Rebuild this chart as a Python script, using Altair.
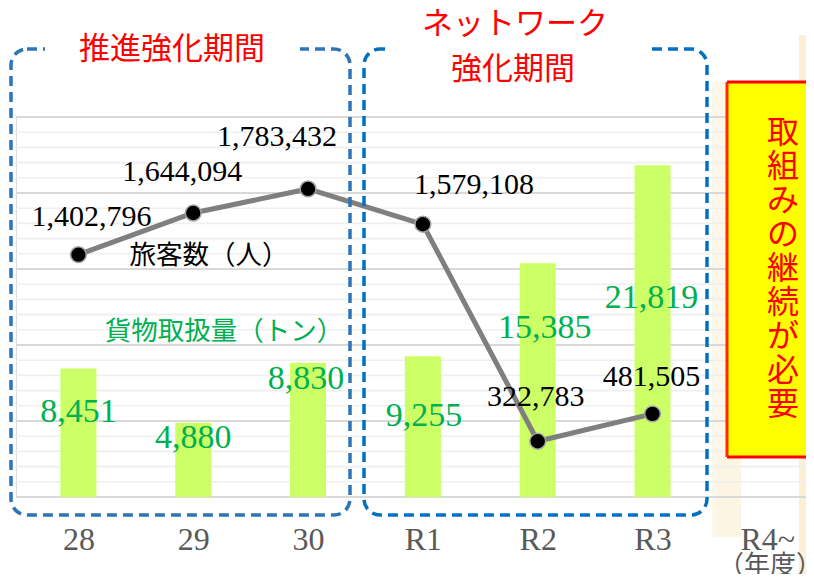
import json
import altair as alt
import pandas as pd

# ---- data ----
years = ["28", "29", "30", "R1", "R2", "R3", "R4~"]
cargo = [8451, 4880, 8830, 9255, 15385, 21819]
passengers = [1402796, 1644094, 1783432, 1579108, 322783, 481505]
grid_minor = list(range(0, 25001, 1000))
grid_major = list(range(0, 25001, 5000))

# label nudges (layout, px)
pax_dx = [13, -11, -31, 51, -2, -1]
pax_dy = [-38, -41, -52, -39, -44, -37]
cargo_dx = [0, 0, -2, 1, 7, -1]
cargo_dy = [43, 15, 16, 60, 65, 133]

df = pd.DataFrame({"idx": list(range(len(cargo))), "cargo": cargo, "pax": passengers})
one = pd.DataFrame({"a": [0]})

W, H = 790, 380
xscale = alt.Scale(domain=[-0.5, 6.293], nice=False, zero=False)
label_arr = json.dumps(years)
xaxis = alt.Axis(values=list(range(len(years))), labelExpr=f"{label_arr}[datum.value]",
                 domain=False, ticks=False, grid=False, title=None,
                 labelFont="Liberation Serif", labelFontSize=32, labelColor="#595959",
                 labelPadding=27)
X = alt.X("idx:Q", scale=xscale, axis=xaxis)
ybar = alt.Scale(domain=[0, 25000], nice=False)
yline = alt.Scale(domain=[0, 2200000], nice=False)

minor = alt.Chart(pd.DataFrame({"v": grid_minor})).mark_rule(
    color="#efefef", strokeWidth=1.6).encode(
    y=alt.Y("v:Q", scale=ybar, axis=None))
major = alt.Chart(pd.DataFrame({"v": grid_major})).mark_rule(
    color="#d9d9d9", strokeWidth=2.2).encode(
    y=alt.Y("v:Q", scale=ybar, axis=None))

bars = alt.Chart(df).mark_bar(size=36, color="#ccff66").encode(
    x=X, y=alt.Y("cargo:Q", scale=ybar, axis=None))

bar_labels = []
for i in range(len(cargo)):
    bar_labels.append(
        alt.Chart(df).transform_filter(f"datum.idx == {i}").mark_text(
            font="Liberation Serif", fontSize=34, color="#00b050", baseline="middle",
            dx=cargo_dx[i], dy=cargo_dy[i]).encode(
            x=X, y=alt.Y("cargo:Q", scale=ybar, axis=None),
            text=alt.Text("cargo:Q", format=","))
    )

line = alt.Chart(df).mark_line(color="#7f7f7f", strokeWidth=5).encode(
    x=X, y=alt.Y("pax:Q", scale=yline, axis=None))
pts = alt.Chart(df).mark_circle(size=250, fill="black", stroke="#a6a6a6", strokeWidth=1.5,
                                opacity=1).encode(
    x=X, y=alt.Y("pax:Q", scale=yline, axis=None))
pax_labels = []
for i in range(len(passengers)):
    pax_labels.append(
        alt.Chart(df).transform_filter(f"datum.idx == {i}").mark_text(
            font="Liberation Serif", fontSize=30, color="black", baseline="middle",
            dx=pax_dx[i], dy=pax_dy[i]).encode(
            x=X, y=alt.Y("pax:Q", scale=yline, axis=None),
            text=alt.Text("pax:Q", format=","))
    )

left_layer = alt.layer(minor, major, bars, *bar_labels)
right_layer = alt.layer(line, pts, *pax_labels)


def rect(x1, x2, y1, y2, **kw):
    return alt.Chart(one).mark_rect(**kw).encode(
        x=alt.value(x1), x2=alt.value(x2), y=alt.value(y1), y2=alt.value(y2))


def seg(x1, x2, y1, y2, **kw):
    return alt.Chart(one).mark_rule(**kw).encode(
        x=alt.value(x1), x2=alt.value(x2), y=alt.value(y1), y2=alt.value(y2))


def label(txt, x, y, **kw):
    return alt.Chart(one).mark_text(**kw).encode(
        x=alt.value(x), y=alt.value(y), text=alt.value(txt))


box1 = rect(-5, 334, -68, 398, filled=False, stroke="#2e75b6", strokeWidth=3.5,
            strokeDash=[10, 6], cornerRadius=16)
box2 = rect(348, 691, -68, 398, filled=False, stroke="#0070c0", strokeWidth=3.5,
            strokeDash=[10, 6], cornerRadius=16)
gap1 = rect(29, 284, -75, -60, fill="white")
gap2 = rect(369, 636, -75, -60, fill="white")

jp = "Noto Sans CJK JP"
t1 = label("推進強化期間", 156, -67, font=jp, fontSize=31, color="#ff0000", baseline="middle")
t2 = label("ネットワーク", 499, -92, font=jp, fontSize=31, color="#ff0000", baseline="middle")
t3 = label("強化期間", 497, -47, font=jp, fontSize=31, color="#ff0000", baseline="middle")
t4 = label("旅客数（人）", 193, 139, font=jp, fontSize=26.5, color="black", baseline="middle")
t5 = label("貨物取扱量（トン）", 208, 215, font=jp, fontSize=26.5, color="#00b050", baseline="middle")
t6 = label("（年度）", 754, 449, font=jp, fontSize=26, color="#595959", baseline="middle")

ray1 = rect(783, 800, -82, 470, fill="#fbf0d6")
ray2 = rect(696, 711, -35, 420, fill="#fdf7ea")
ray3 = rect(700, 725, 340, 420, fill="#fdf5e3")
ybox = rect(711, 800, -35, 340, fill="#ffff00")
bt = seg(711, 800, -35, -35, color="#ff0000", strokeWidth=3)
bb = seg(711, 800, 340, 340, color="#ff0000", strokeWidth=3)
bl = seg(711, 711, -35, 340, color="#ff2a00", strokeWidth=3)
vtext = alt.Chart(one).mark_text(font=jp, fontSize=32, color="#ff0000", baseline="top",
                                 lineHeight=34).encode(
    x=alt.value(767), y=alt.value(1), text=alt.value(list("取組みの継続が必要")))

chart = alt.layer(
    ray1, ray2, ray3,
    alt.layer(left_layer, right_layer).resolve_scale(y="independent"),
    box1, box2, gap1, gap2, t1, t2, t3, t4, t5, t6, ybox, bt, bb, bl, vtext,
).properties(
    width=W, height=H,
    autosize=alt.AutoSizeParams(type="none"),
    padding={"left": 8, "top": 109, "right": 0, "bottom": 77},
).configure_view(stroke=None).configure_axisY(
    domain=False, grid=False, ticks=False, labels=False
).configure(background="white")

chart.save("out.html", embed_options={"renderer": "svg", "actions": False})
